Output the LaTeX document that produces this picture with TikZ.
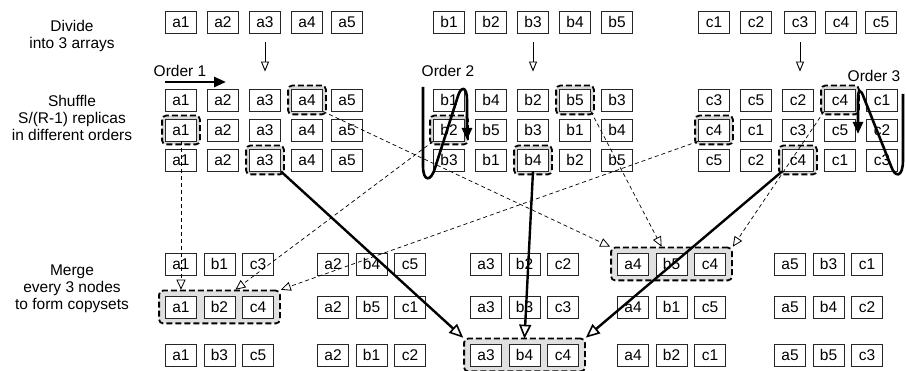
\documentclass[tikz,border=0pt]{standalone}
\usepackage{fontspec}
\setmainfont{Liberation Sans}
\usetikzlibrary{arrows.meta,backgrounds,fit,calc}
\tikzset{
  cell/.style={draw=black!85, line width=0.8pt, fill=white, minimum width=31pt,
    minimum height=22pt, inner sep=0pt, font=\fontsize{15.5}{16}\selectfont},
  sidetext/.style={align=center, font=\fontsize{15.5}{17}\selectfont},
  ordertext/.style={font=\fontsize{15.5}{16}\selectfont},
  pick/.style={draw=black, line width=1.8pt, dash pattern=on 6pt off 3pt,
    rounded corners=4pt, fill=black!15, inner sep=3pt},
  grp/.style={pick, inner xsep=6pt, inner ysep=5pt, fill=black!12},
  flow/.style={draw, line width=0.7pt, dash pattern=on 4pt off 3pt,
    -{Triangle[fill=white, length=10pt, width=9pt, line width=0.8pt]}},
  mainflow/.style={line width=2.4pt,
    -{Triangle[fill=white, length=14pt, width=12pt, line width=1.6pt]}},
  orderarrow/.style={line width=2.6pt, -{Triangle[length=12pt, width=10pt]}},
  split/.style={line width=0.9pt, -{Triangle[fill=white, length=10pt, width=8pt]}},
}
\begin{document}
\begin{tikzpicture}[x=1pt, y=-1pt]
\useasboundingbox (0,0) rectangle (906,371);

% side captions
\node[sidetext] (capDivide) at (72,35.5) {Divide\\into 3 arrays};
\node[sidetext] (capShuffle) at (72,118) {Shuffle\\S/(R-1) replicas\\in different orders};
\node[sidetext] (capMerge) at (72,289) {Merge\\every 3 nodes\\to form copysets};

% the three source arrays
\foreach \i/\x in {1/181,2/223,3/265,4/307,5/347}
  \node[cell] (ta\i) at (\x,22) {a\i};
\foreach \i/\x in {1/449,2/491,3/533,4/575,5/617}
  \node[cell] (tb\i) at (\x,22) {b\i};
\foreach \i/\x in {1/714,2/756,3/800,4/841,5/881}
  \node[cell] (tc\i) at (\x,22) {c\i};

% shuffled replicas
\foreach \r/\y in {1/100,2/130,3/160}{
  \foreach \v/\x [count=\c] in {1/181,2/223,3/265,4/307,5/347}
    \node[cell] (sa\r\c) at (\x,\y) {a\v};
}
\foreach \r/\y/\lst in {1/100/{1,4,2,5,3},2/130/{2,5,3,1,4},3/160/{3,1,4,2,5}}{
  \foreach \v [count=\c] in \lst
    \node[cell] (sb\r\c) at ({407+42*\c},\y) {b\v};
}
\foreach \r/\y/\lst in {1/100/{3,5,2,4,1},2/130/{4,1,3,5,2},3/160/{5,2,4,1,3}}{
  \foreach \v [count=\c] in \lst
    \node[cell] (sc\r\c) at ({672+42*\c},\y) {c\v};
}

% copysets
\foreach \r/\y/\bl/\cl in {1/264/{1,4,2,5,3}/{3,5,2,4,1},
                           2/307/{2,5,3,1,4}/{4,1,3,5,2},
                           3/355/{3,1,4,2,5}/{5,2,4,1,3}}{
  \foreach \x [count=\g] in {181,333,486,633,790}{
    \node[cell] (m\r\g a) at (\x,\y) {a\g};
  }
  \foreach \v [count=\g] in \bl{
    \pgfmathsetmacro{\xx}{{181,333,486,633,790}[\g-1]+38.5}
    \node[cell] (m\r\g b) at (\xx,\y) {b\v};
  }
  \foreach \v [count=\g] in \cl{
    \pgfmathsetmacro{\xx}{{181,333,486,633,790}[\g-1]+77}
    \node[cell] (m\r\g c) at (\xx,\y) {c\v};
  }
}

% highlighted replicas and copysets
\begin{scope}[on background layer]
  \node[pick, fit=(sa14)] (hsa14) {};
  \node[pick, fit=(sa21)] (hsa21) {};
  \node[pick, fit=(sa33)] (hsa33) {};
  \node[pick, fit=(sb14)] (hsb14) {};
  \node[pick, fit=(sb21)] (hsb21) {};
  \node[pick, fit=(sb33)] (hsb33) {};
  \node[pick, fit=(sc14)] (hsc14) {};
  \node[pick, fit=(sc21)] (hsc21) {};
  \node[pick, fit=(sc33)] (hsc33) {};
  \node[grp, fit=(m14a)(m14c)] (g14) {};
  \node[grp, fit=(m21a)(m21c)] (g21) {};
  \node[grp, fit=(m33a)(m33c)] (g33) {};
\end{scope}

% splitting arrows
\draw[split, shorten <=9pt, shorten >=17pt] (ta3.south) -- (ta3.south |- sa13.north);
\draw[split, shorten <=9pt, shorten >=17pt] (tb3.south) -- (tb3.south |- sb13.north);
\draw[split, shorten <=9pt, shorten >=17pt] (tc3.south) -- (tc3.south |- sc13.north);

% order labels and order arrows
\node[ordertext] (ord1) at (180,71) {Order 1};
\node[ordertext] (ord2) at (448,71) {Order 2};
\node[ordertext] (ord3) at (874,76) {Order 3};

\coordinate (o1s) at (165,82);
\coordinate (o1e) at (226,82);
\draw[orderarrow] (o1s) -- (o1e);

\draw[orderarrow] (423,87) -- (423,166)
  .. controls (423,182) and (431,182) .. (435,168)
  -- (458,96) .. controls (461,86) and (467,86) .. (467,100) -- (467,140);

\draw[orderarrow] (903,94) -- (903,160)
  .. controls (903,178) and (895,178) .. (891,166)
  -- (864,98) .. controls (861,89) and (858,88) .. (858,100) -- (858,134);

% replica-to-copyset connectors
\draw[flow] (sa21.south) -- (sa21.south |- g21.north);
\draw[flow] (sb21.south west) -- (g21.north -| m21b.east);
\draw[flow] (sc21.south west) -- (g21.north east);
\draw[flow] (sa14.south east) -- (g14.north west);
\draw[flow] (sb14.south east) -- ($(g14.north -| m14b.west)+(6,0)$);
\draw[flow] (sc14.south west) -- (g14.north east);
\draw[mainflow] (sa33.south east) -- (g33.north west);
\draw[mainflow] (sb33.south) -- ($(g33.north -| m33b)+(0,1)$);
\draw[mainflow] (sc33.south west) -- (g33.north east);
\end{tikzpicture}
\end{document}
